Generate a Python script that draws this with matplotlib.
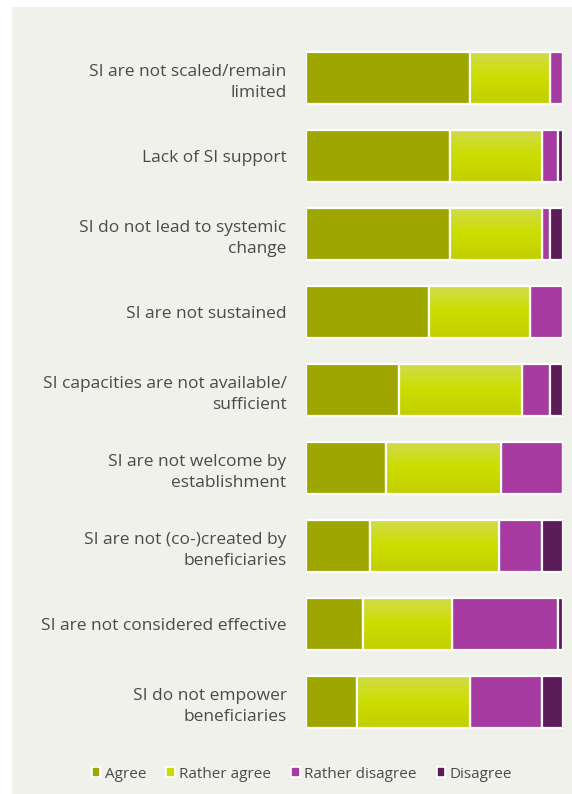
import numpy as np
import matplotlib.pyplot as plt
from matplotlib.patches import Patch, Rectangle

plt.rcParams['font.family'] = ['Open Sans', 'DejaVu Sans']

labels = [
    "SI are not scaled/remain\nlimited",
    "Lack of SI support",
    "SI do not lead to systemic\nchange",
    "SI are not sustained",
    "SI capacities are not available/\nsufficient",
    "SI are not welcome by\nestablishment",
    "SI are not (co-)created by\nbeneficiaries",
    "SI are not considered effective",
    "SI do not empower\nbeneficiaries",
]
agree = [64, 56, 56, 48, 36, 31, 25, 22, 20]
rather_agree = [31, 36, 36, 39, 48, 45, 50, 35, 44]
rather_disagree = [5, 6, 3, 13, 11, 24, 17, 41, 28]
disagree = [0, 2, 5, 0, 5, 0, 8, 2, 8]

series = ["Agree", "Rather agree", "Rather disagree", "Disagree"]
colors = ["#9ea700", "#cddc00", "#a63aa0", "#5c1c5a"]
panel_bg = "#f1f1ec"
text_col = "#4a4a4a"

fig = plt.figure(figsize=(5.72, 7.94), dpi=100)
fig.patch.set_facecolor("white")
# light panel behind everything
fig.patches.append(Rectangle((12 / 572, 0), 1, 1 - 7 / 794, transform=fig.transFigure,
                             facecolor=panel_bg, edgecolor="none", zorder=-1))

ax = fig.add_axes([306 / 572, 1 - 741 / 794, 257 / 572, (741 - 39) / 794])
ax.patch.set_alpha(0)

y = np.arange(len(labels))
left = np.zeros(len(labels))
# vertical gradient for the "Rather agree" segments (top light -> bottom darker)
stops = np.array([[0.82, 0.86, 0.30], [0.80, 0.87, 0.0], [0.76, 0.81, 0.0]])
t = np.linspace(0, 2, 50)
img = np.stack([np.interp(t, [0, 1, 2], stops[:, c]) for c in range(3)], axis=-1)[:, None, :]

for vals, name, col in zip([agree, rather_agree, rather_disagree, disagree], series, colors):
    vals = np.array(vals, dtype=float)
    bars = ax.barh(y, vals, left=left, height=0.67, color=col, edgecolor="white",
                   linewidth=1.6, label=name)
    if name == "Rather agree":
        for b in bars:
            x0, y0 = b.get_x(), b.get_y()
            im = ax.imshow(img, extent=[x0, x0 + b.get_width(), y0 + b.get_height(), y0],
                           aspect="auto", zorder=b.get_zorder() + 0.1, interpolation="bilinear")
            im.set_clip_path(b)
            b.set_facecolor("none")
            b.set_zorder(b.get_zorder() + 0.2)
    left += vals

ax.set_xlim(0, 100)
ax.set_ylim(len(labels) - 0.5, -0.5)
ax.set_yticks(y)
ax.set_yticklabels(labels, fontsize=12.5, color=text_col, linespacing=1.45)
ax.tick_params(axis="y", length=0, pad=14)
ax.set_xticks([])
for s in ax.spines.values():
    s.set_visible(False)

handles = [Patch(facecolor=c, edgecolor="white", linewidth=1.2) for c in colors]
fig.legend(handles, series, loc="center", bbox_to_anchor=(0.528, 1 - 774 / 794),
           ncol=4, frameon=False, fontsize=11, handlelength=0.55, handleheight=0.55,
           handletextpad=0.3, columnspacing=1.3, labelcolor=text_col)

fig.savefig("out.png", dpi=100, facecolor=fig.get_facecolor())
